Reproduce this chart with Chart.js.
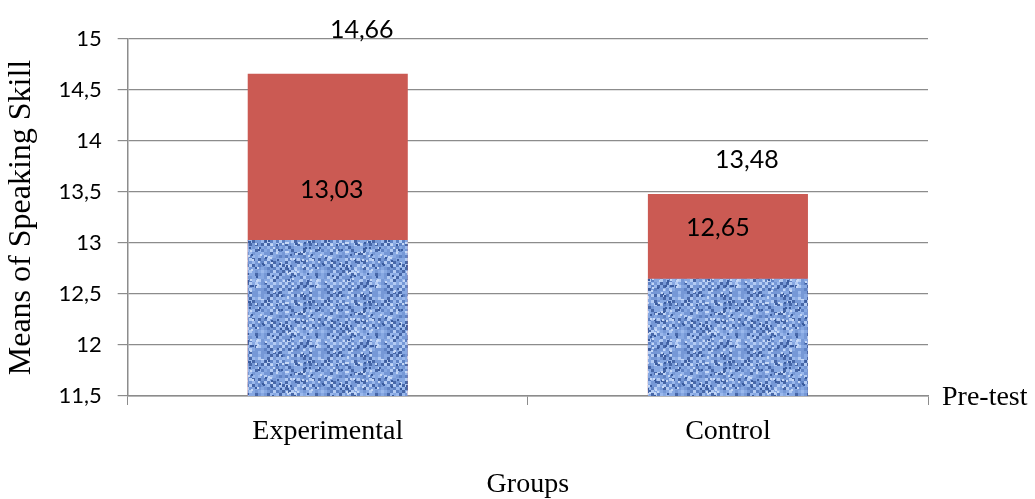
<!DOCTYPE html>
<html><head><meta charset="utf-8">
<script src="https://cdn.jsdelivr.net/npm/chart.js@4"></script>
<style>html,body{margin:0;padding:0;background:#fff}#wrap{width:1035px;height:499px}</style>
</head><body><div id="wrap"><canvas id="c"></canvas></div>
<script>
const categories = ["Experimental", "Control"];
const preTest = [13.03, 12.65];
const postTest = [14.66, 13.48];
const preLabels = ["13,03", "12,65"];
const postLabels = ["14,66", "13,48"];
const yTicks = [11.5, 12, 12.5, 13, 13.5, 14, 14.5, 15];

function makeTexture() {
  const s = 60, cell = 3, cv = document.createElement('canvas');
  cv.width = s; cv.height = s;
  const g = cv.getContext('2d');
  let h = 98765;
  function rnd() { h = (h * 1103515245 + 12345) & 0x7fffffff; return h / 0x7fffffff; }
  const pal = ['#4767a8', '#5f82c4', '#7698d6', '#87a8e2', '#9ab8ec', '#b3cbf3'];
  for (let y = 0; y < s; y += cell) for (let x = 0; x < s; x += cell) {
    const r = rnd();
    const weave = ((x / cell) % 2 === 0) !== ((y / cell) % 2 === 0);
    const idx = Math.min(5, Math.floor(r * 4) + (weave ? 2 : 0));
    g.fillStyle = pal[idx]; g.fillRect(x, y, cell, cell);
  }
  for (let i = 0; i < 120; i++) {
    const x = Math.floor(rnd() * s), y = Math.floor(rnd() * s);
    g.fillStyle = rnd() < 0.5 ? '#3a5b9e' : '#c6d8f6';
    g.fillRect(x, y, 2, 2);
  }
  return g.createPattern(cv, 'repeat');
}

const labelPlugin = {
  id: 'labels',
  afterDatasetsDraw(chart) {
    const { ctx, scales: { x, y } } = chart;
    ctx.save();
    ctx.fillStyle = '#000';
    ctx.font = '25px Lato, "Open Sans", sans-serif';
    ctx.textAlign = 'center'; ctx.textBaseline = 'middle';
    const preOff = [[4, -50], [-10, -51]];
    const postOff = [[34, -44], [19, -34]];
    categories.forEach((c, i) => {
      const cx = x.getPixelForValue(i);
      ctx.fillText(preLabels[i], cx + preOff[i][0], y.getPixelForValue(preTest[i]) + preOff[i][1]);
      ctx.fillText(postLabels[i], cx + postOff[i][0], y.getPixelForValue(postTest[i]) + postOff[i][1]);
    });
    ctx.font = '28px "Liberation Serif", "Times New Roman", serif';
    ctx.textAlign = 'left';
    ctx.fillText('Pre-test', chart.chartArea.right + 14, chart.chartArea.bottom + 2);
    ctx.restore();
  }
};

const serif = '"Liberation Serif", "Times New Roman", serif';
new Chart(document.getElementById('c'), {
  type: 'bar',
  data: {
    labels: categories,
    datasets: [
      { label: 'Pre-test', data: preTest, backgroundColor: makeTexture(), order: 0 },
      { label: 'Post-test', data: postTest, backgroundColor: '#cb5a53', order: 1 }
    ]
  },
  options: {
    responsive: true, maintainAspectRatio: false, animation: false,
    layout: { padding: { left: 2, right: 107, top: 39, bottom: 0 } },
    datasets: { bar: { categoryPercentage: 1, barPercentage: 0.4 } },
    plugins: { legend: { display: false }, tooltip: { enabled: false } },
    scales: {
      x: {
        stacked: true,
        grid: { display: true, drawOnChartArea: false, color: '#8c8c8c', tickLength: 9, offset: true },
        border: { color: '#8c8c8c', width: 1.5 },
        ticks: { color: '#000', padding: 13, font: { family: serif, size: 28, lineHeight: 1 } },
        title: { display: true, text: 'Groups', color: '#000', padding: { top: 12, bottom: 0 }, font: { family: serif, size: 28, lineHeight: 1 } }
      },
      y: {
        stacked: false,
        min: 11.5, max: 15,
        afterBuildTicks(axis) { axis.ticks = yTicks.map(v => ({ value: v })); },
        grid: { color: '#8c8c8c', tickLength: 10, lineWidth: 1.2 },
        border: { color: '#8c8c8c', width: 1.5 },
        ticks: { color: '#000', padding: 16, font: { family: 'Lato, "Open Sans", sans-serif', size: 22 },
          callback: v => String(v).replace('.', ',') },
        title: { display: true, text: 'Means of Speaking Skill', color: '#000', padding: { top: 0, bottom: 2 }, font: { family: serif, size: 32 } }
      }
    }
  },
  plugins: [labelPlugin]
});
</script></body></html>
